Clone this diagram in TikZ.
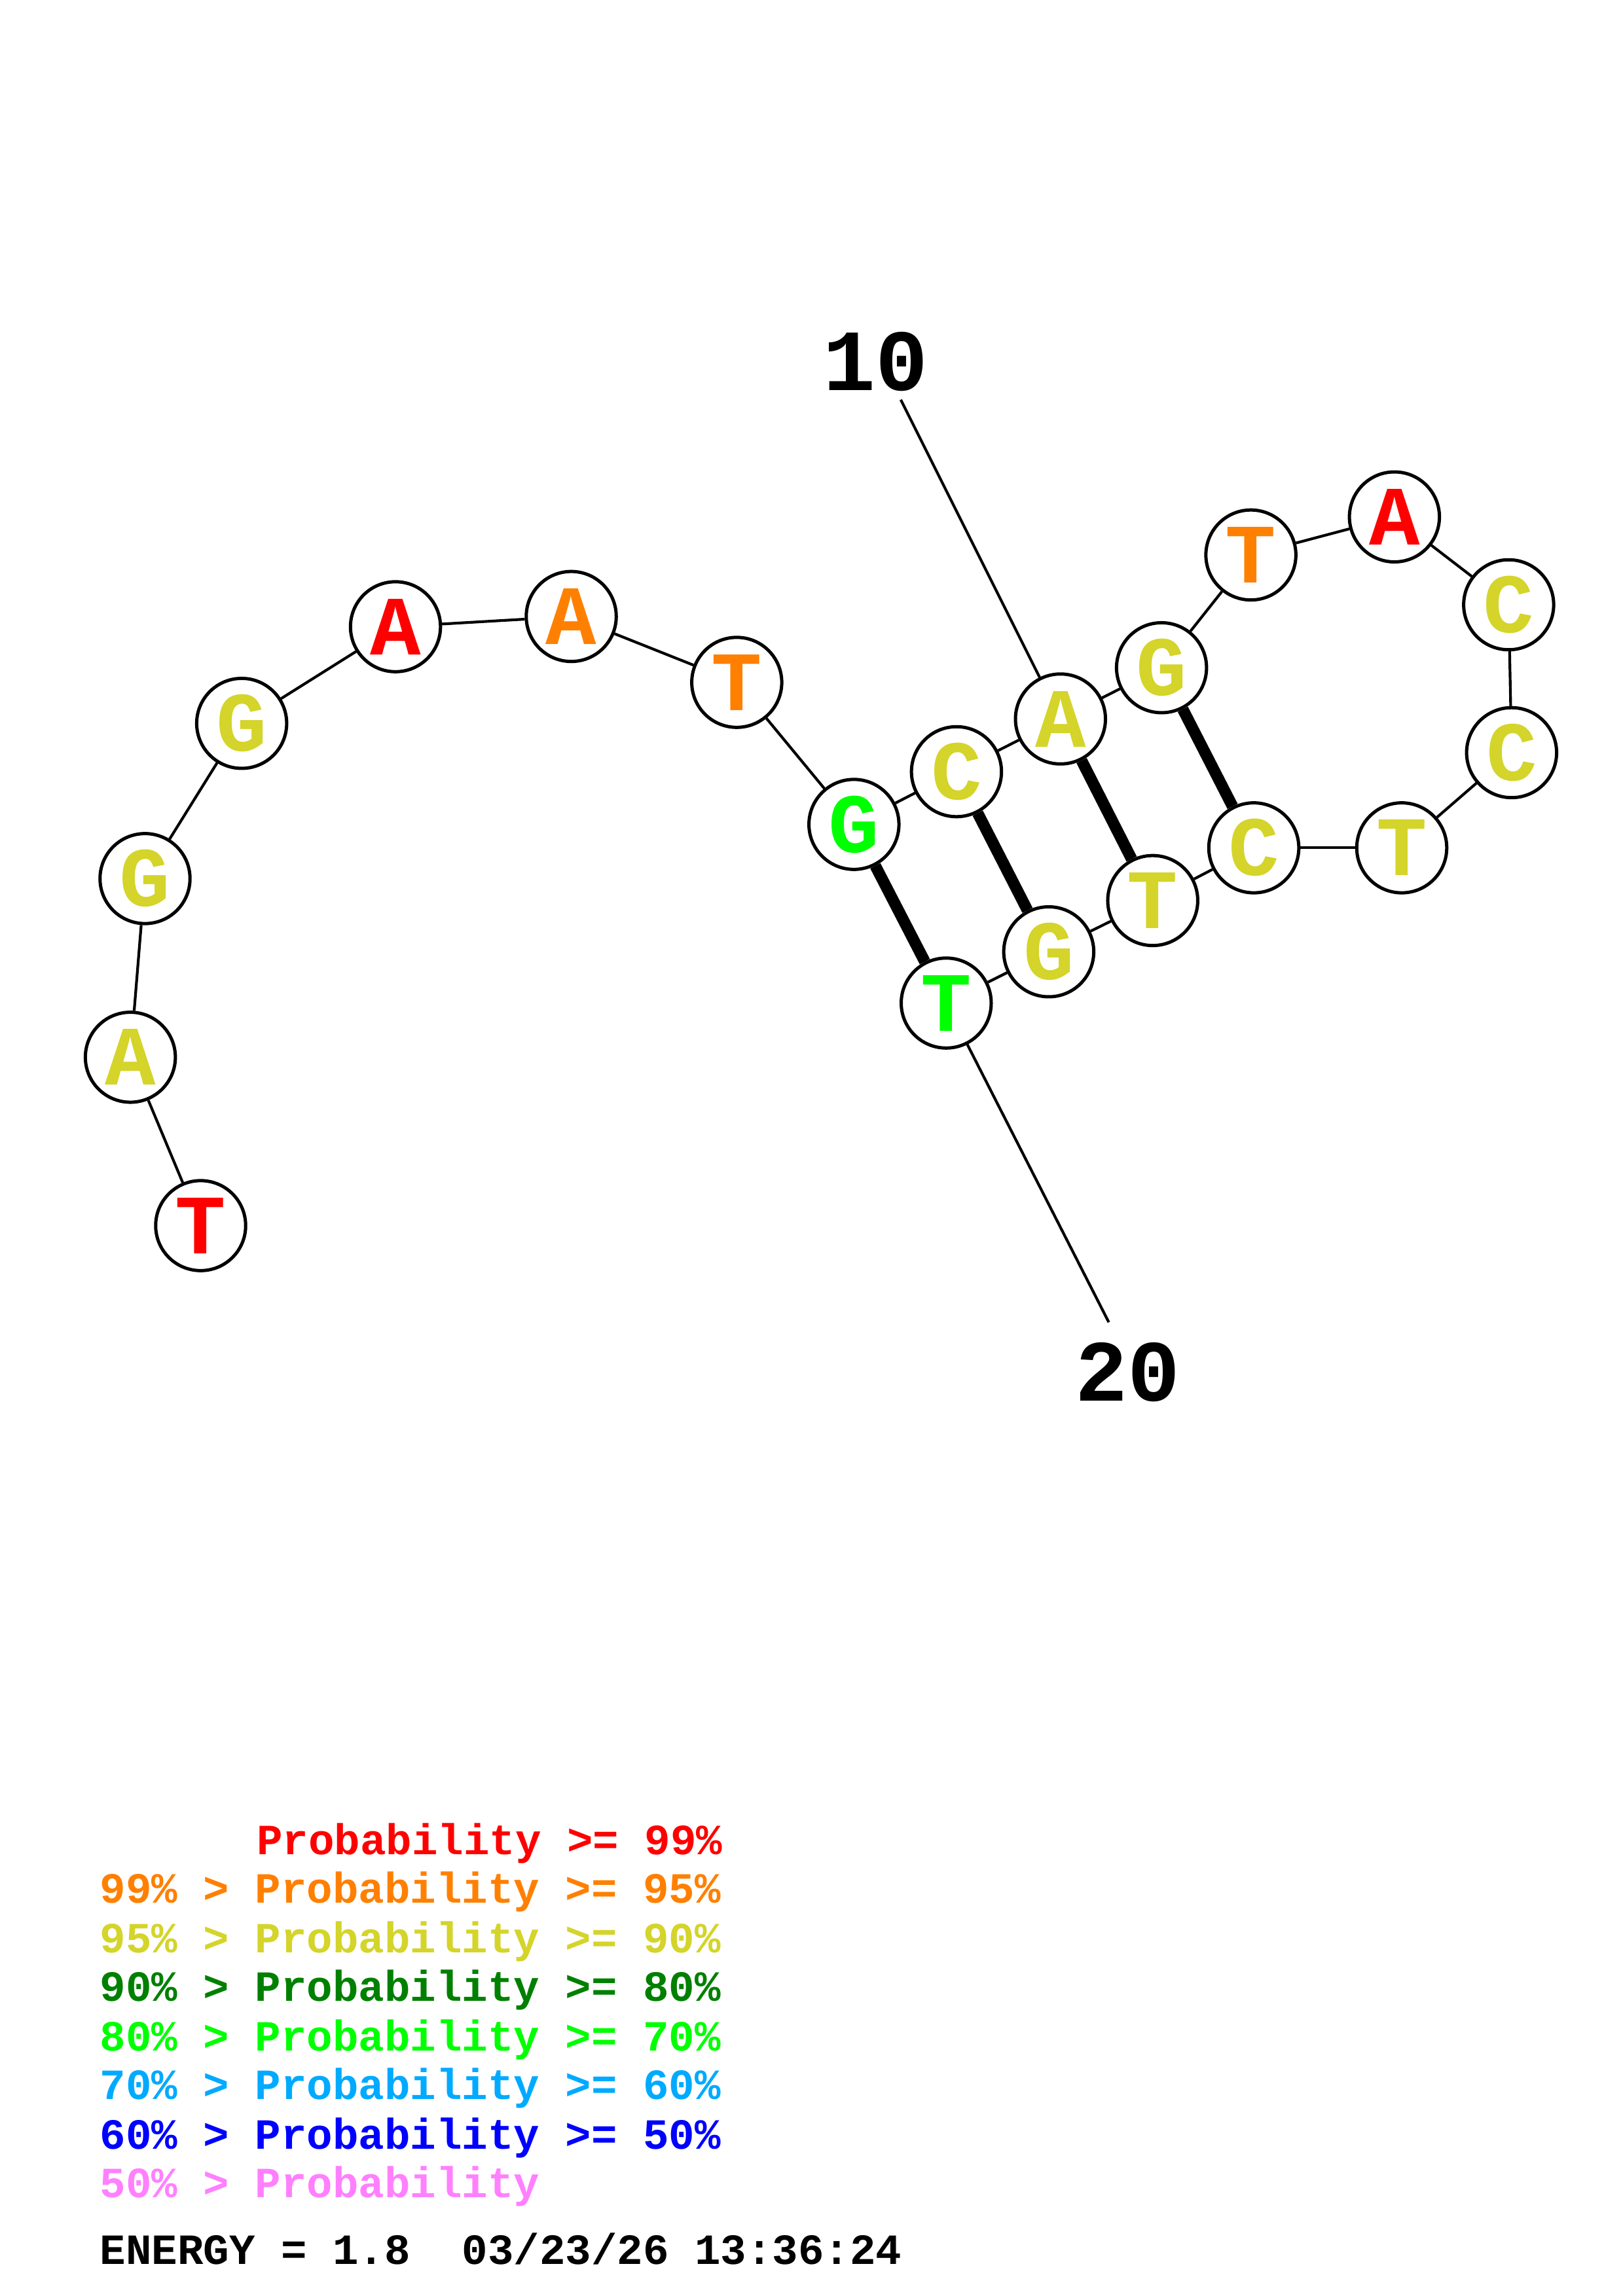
\documentclass[tikz,border=0pt]{standalone}
\usepackage{fontspec}
\newfontfamily\mono{Liberation Mono}[BoldFont={Liberation Mono Bold}]
\definecolor{cred}{RGB}{255,0,0}
\definecolor{corange}{RGB}{255,128,0}
\definecolor{cyellow}{RGB}{212,212,42}
\definecolor{cdgreen}{RGB}{0,128,0}
\definecolor{cgreen}{RGB}{0,255,0}
\definecolor{ccyan}{RGB}{0,170,255}
\definecolor{cblue}{RGB}{0,0,255}
\definecolor{cpink}{RGB}{255,128,255}
\begin{document}
\begin{tikzpicture}[x=0.537bp,y=-0.537bp,
  base/.style={circle,draw=black,fill=white,line width=1.2bp,minimum size=33bp,inner sep=0pt,font=\mono\bfseries\fontsize{31bp}{31bp}\selectfont},
  bb/.style={line width=1bp},
  pr/.style={line width=4.2bp},
  lbl/.style={font=\mono\bfseries\fontsize{32bp}{32bp}\selectfont,inner sep=0pt},
  leg/.style={font=\mono\bfseries\fontsize{15.8bp}{15.8bp}\selectfont,inner sep=0pt,anchor=west}]
\useasboundingbox (0,0) rectangle (1108,1568);
\fill[white] (0,0) rectangle (1108,1568);
% connector lines for labels
\coordinate (l10) at (615,273);
\coordinate (l20) at (757,903);
% nodes
\node[base,text=cred]    (n1)  at (137,837) {T};
\node[base,text=cyellow] (n2)  at (89,722)  {A};
\node[base,text=cyellow] (n3)  at (99,600)  {G};
\node[base,text=cyellow] (n4)  at (165,494) {G};
\node[base,text=cred]    (n5)  at (270,428) {A};
\node[base,text=corange] (n6)  at (390,421) {A};
\node[base,text=corange] (n7)  at (503,466) {T};
\node[base,text=cgreen]  (n8)  at (583,563) {G};
\node[base,text=cyellow] (n9)  at (653,527) {C};
\node[base,text=cyellow] (n10) at (724,491) {A};
\node[base,text=cyellow] (n11) at (793,456) {G};
\node[base,text=corange] (n12) at (854,379) {T};
\node[base,text=cred]    (n13) at (952,353) {A};
\node[base,text=cyellow] (n14) at (1030,413) {C};
\node[base,text=cyellow] (n15) at (1032,514) {C};
\node[base,text=cyellow] (n16) at (957,579) {T};
\node[base,text=cyellow] (n17) at (856,579) {C};
\node[base,text=cyellow] (n18) at (787,615) {T};
\node[base,text=cyellow] (n19) at (716,650) {G};
\node[base,text=cgreen]  (n20) at (646,685) {T};
% backbone
\foreach \a/\b in {1/2,2/3,3/4,4/5,5/6,6/7,7/8,8/9,9/10,10/11,11/12,12/13,13/14,14/15,15/16,16/17,17/18,18/19,19/20}
  \draw[bb] (n\a) -- (n\b);
% pairs
\foreach \a/\b in {8/20,9/19,10/18,11/17}
  \draw[pr] (n\a) -- (n\b);
% labels
\draw[bb] (l10) -- (n10);
\draw[bb] (n20) -- (l20);
\node[lbl] (t10) at (598,247) {10};
\node[lbl] (t20) at (770,937) {20};
% legend
\node[leg,text=cred]    (g1) at (175,1259) {Probability >= 99\%};
\node[leg,text=corange] (g2) at (68,1292) {99\% > Probability >= 95\%};
\node[leg,text=cyellow] (g3) at (68,1326) {95\% > Probability >= 90\%};
\node[leg,text=cdgreen] (g4) at (68,1359) {90\% > Probability >= 80\%};
\node[leg,text=cgreen]  (g5) at (68,1393) {80\% > Probability >= 70\%};
\node[leg,text=ccyan]   (g6) at (68,1426) {70\% > Probability >= 60\%};
\node[leg,text=cblue]   (g7) at (68,1460) {60\% > Probability >= 50\%};
\node[leg,text=cpink]   (g8) at (68,1493) {50\% > Probability};
\node[leg,text=black]   (g9) at (68,1536) {ENERGY = 1.8\ \ 03/23/26 13:36:24};
\end{tikzpicture}
\end{document}
